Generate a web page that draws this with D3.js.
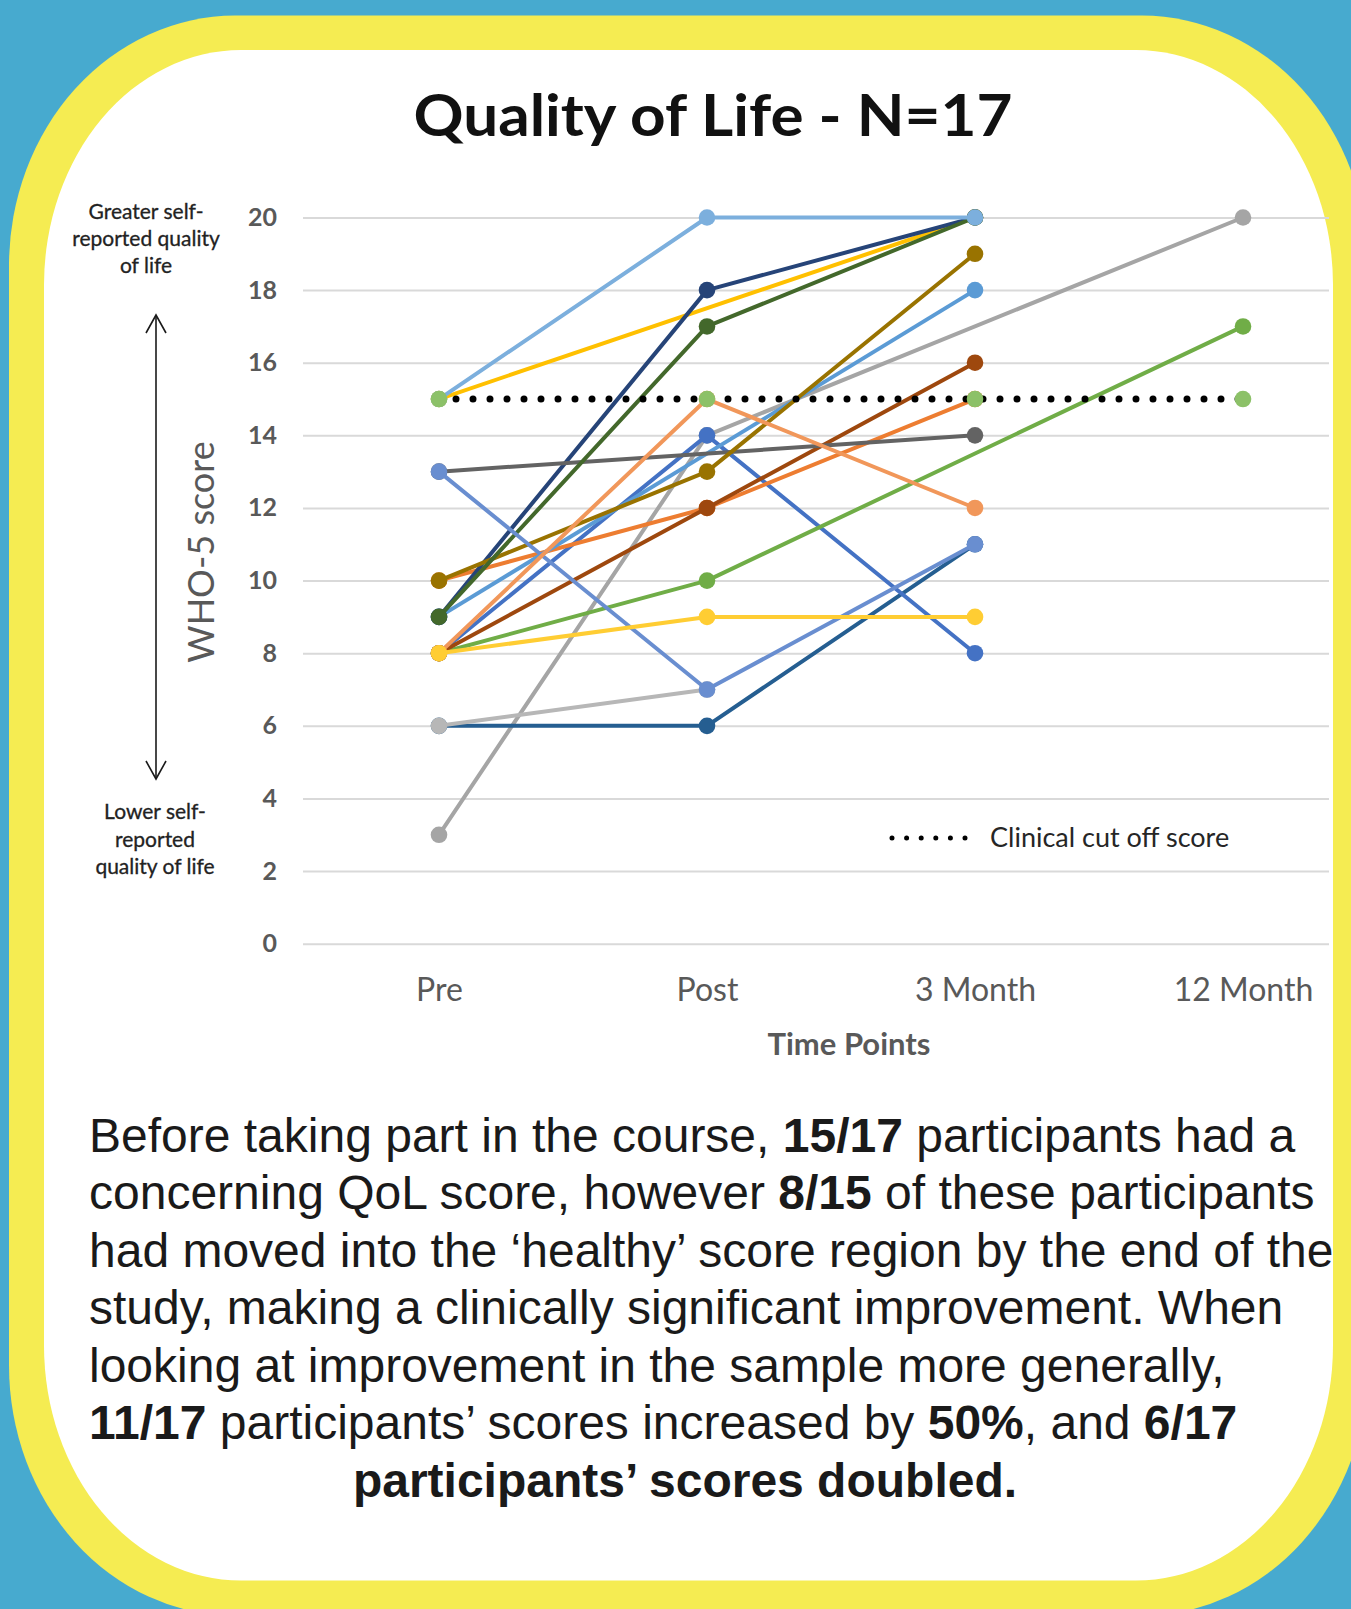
<!DOCTYPE html>
<html>
<head>
<meta charset="utf-8">
<script src="https://cdn.jsdelivr.net/npm/d3@7/dist/d3.min.js"></script>
<style>
  html, body { margin: 0; padding: 0; background: #47aacf; }
  svg { display: block; }
</style>
</head>
<body>
<div id="chart"></div>
<script>
// x categories and y ticks
const timePoints = ["Pre", "Post", "3 Month", "12 Month"];
const yTickValues = [0, 2, 4, 6, 8, 10, 12, 14, 16, 18, 20];

// WHO-5 score of each participant at each time point (null = no score, line spans the gap)
const pGray       = [3, 14, null, 20];
const pDarkBlue   = [6, 6, 11, null];
const pLightGray  = [6, 7, null, null];
const pBlue       = [8, 14, 8, null];
const pOrange     = [10, 12, 15, null];
const pGold       = [15, null, 20, null];
const pSkyBlue    = [9, null, 18, null];
const pGreen      = [8, 10, null, 17];
const pNavy       = [9, 18, 20, null];
const pBrown      = [8, 12, 16, null];
const pDarkGray   = [13, null, 14, null];
const pOlive      = [10, 13, 19, null];
const pDarkGreen  = [9, 17, 20, null];
const pMidBlue    = [13, 7, 11, null];
const pPeach      = [8, 15, 12, null];
const pYellow     = [8, 9, 9, null];
const pLightBlue  = [15, 20, 20, null];

// clinical cut off
const cutoffScores = [15, 15, 15, 15];

// drawing order (later ones sit on top)
const participants = [pGray, pDarkBlue, pLightGray, pBlue, pOrange, pGold, pSkyBlue, pGreen,
    pNavy, pBrown, pDarkGray, pOlive, pDarkGreen, pMidBlue, pPeach, pYellow, pLightBlue];
const seriesColors = ["#a5a5a5", "#255e91", "#b7b7b7", "#4472c4", "#ed7d31", "#ffc000", "#5b9bd5", "#70ad47",
    "#264478", "#9e480e", "#636363", "#997300", "#43682b", "#698ed0", "#f1975a", "#ffcd33", "#7cafdd"];
const cutoffMarkerColor = "#8cc168";

const paragraph = [
    [["Before taking part in the course, ", false], ["15/17", true], [" participants had a", false]],
    [["concerning QoL score, however ", false], ["8/15", true], [" of these participants", false]],
    [["had moved into the \u2018healthy\u2019 score region by the end of the", false]],
    [["study, making a clinically significant improvement. When", false]],
    [["looking at improvement in the sample more generally,", false]],
    [["11/17", true], [" participants\u2019 scores increased by ", false], ["50%", true], [", and ", false], ["6/17", true]],
    [["participants\u2019 scores doubled.", true]]
];

const width = 1351, height = 1609;
const gridLeft = 303, gridRight = 1329;

const svg = d3.select("#chart").append("svg")
    .attr("width", width)
    .attr("height", height);

// poster frame
svg.append("rect").attr("width", width).attr("height", height).attr("fill", "#47aacf");
svg.append("rect")
    .attr("x", 9).attr("y", 15.6).attr("width", 1359).attr("height", 1600)
    .attr("rx", 226).attr("ry", 250)
    .attr("fill", "#f5ec52");
svg.append("rect")
    .attr("x", 44).attr("y", 50).attr("width", 1289).attr("height", 1530.6)
    .attr("rx", 197).attr("ry", 235)
    .attr("fill", "#ffffff");

// title
svg.append("text")
    .attr("x", 713).attr("y", 136)
    .attr("text-anchor", "middle")
    .attr("textLength", 599).attr("lengthAdjust", "spacingAndGlyphs")
    .style("font-family", "'Comic Sans MS', Lato, sans-serif")
    .style("font-weight", "bold")
    .style("font-size", "58px")
    .attr("fill", "#111111")
    .text("Quality of Life - N=17");

const x = d3.scalePoint().domain(timePoints).range([305, 1377]).padding(0.5);
const y = d3.scaleLinear().domain([0, 20]).range([943.7, 217.5]);

// y axis with gridlines
const yAxis = d3.axisLeft(y)
    .tickValues(yTickValues)
    .tickSize(-(gridRight - gridLeft))
    .tickPadding(26);

const yGroup = svg.append("g")
    .attr("transform", "translate(" + gridLeft + ",0)")
    .call(yAxis);
yGroup.select(".domain").remove();
yGroup.selectAll(".tick line").attr("stroke", "#d9d9d9").attr("stroke-width", 2);
yGroup.selectAll(".tick text")
    .style("font-family", "Lato, sans-serif")
    .style("font-weight", "bold")
    .style("font-size", "25px")
    .attr("fill", "#595959");

// x axis labels
const xAxis = d3.axisBottom(x).tickSize(0).tickPadding(35);
const xGroup = svg.append("g")
    .attr("transform", "translate(0," + y(0) + ")")
    .call(xAxis);
xGroup.select(".domain").remove();
xGroup.selectAll(".tick text")
    .style("font-family", "Lato, sans-serif")
    .style("font-size", "32px")
    .attr("fill", "#595959");

svg.append("text")
    .attr("x", 849).attr("y", 1055)
    .attr("text-anchor", "middle")
    .style("font-family", "Lato, sans-serif")
    .style("font-weight", "bold")
    .style("font-size", "31px")
    .attr("fill", "#595959")
    .text("Time Points");

// y axis title and the quality arrow
svg.append("text")
    .attr("transform", "translate(214,552) rotate(-90)")
    .attr("text-anchor", "middle")
    .style("font-family", "Lato, sans-serif")
    .style("font-size", "36px")
    .attr("fill", "#595959")
    .text("WHO-5 score");

const arrow = svg.append("g").attr("stroke", "#1a1a1a").attr("stroke-width", 1.6).attr("fill", "none");
arrow.append("line").attr("x1", 156).attr("x2", 156).attr("y1", 315).attr("y2", 779);
arrow.append("path").attr("d", "M146,333 L156,315 L166,333");
arrow.append("path").attr("d", "M146,761 L156,779 L166,761");

const noteStyle = function (sel) {
    sel.style("font-family", "Lato, sans-serif")
        .style("font-size", "21px")
        .attr("fill", "#222222")
        .attr("stroke", "#222222")
        .attr("stroke-width", 0.3)
        .attr("text-anchor", "middle");
};
const topNote = svg.append("text").call(noteStyle);
["Greater self-", "reported quality", "of life"].forEach(function (t, i) {
    topNote.append("tspan").attr("x", 146).attr("y", 219 + i * 27).text(t);
});
const bottomNote = svg.append("text").call(noteStyle);
["Lower self-", "reported", "quality of life"].forEach(function (t, i) {
    bottomNote.append("tspan").attr("x", 155).attr("y", 819 + i * 27.5).text(t);
});

// participant lines
const line = d3.line()
    .x(function (d) { return x(d.t); })
    .y(function (d) { return y(d.v); });

function toPoints(values) {
    return values.map(function (v, i) { return { t: timePoints[i], v: v }; })
        .filter(function (d) { return d.v !== null; });
}

const plot = svg.append("g");
participants.forEach(function (values, i) {
    const pts = toPoints(values);
    const g = plot.append("g");
    g.append("path")
        .datum(pts)
        .attr("d", line)
        .attr("fill", "none")
        .attr("stroke", seriesColors[i])
        .attr("stroke-width", 4)
        .attr("stroke-linejoin", "round");
    g.selectAll("circle")
        .data(pts)
        .join("circle")
        .attr("cx", function (d) { return x(d.t); })
        .attr("cy", function (d) { return y(d.v); })
        .attr("r", 8.3)
        .attr("fill", seriesColors[i]);
});

// clinical cut off series
const cutPts = toPoints(cutoffScores);
const cutG = plot.append("g");
cutG.append("path")
    .datum(cutPts)
    .attr("d", line)
    .attr("fill", "none")
    .attr("stroke", "#000000")
    .attr("stroke-width", 7)
    .attr("stroke-linecap", "round")
    .attr("stroke-dasharray", "0 17");
cutG.selectAll("circle")
    .data(cutPts)
    .join("circle")
    .attr("cx", function (d) { return x(d.t); })
    .attr("cy", function (d) { return y(d.v); })
    .attr("r", 8.3)
    .attr("fill", cutoffMarkerColor);

// legend
svg.append("line")
    .attr("x1", 892).attr("x2", 966).attr("y1", 838).attr("y2", 838)
    .attr("stroke", "#000000")
    .attr("stroke-width", 5)
    .attr("stroke-linecap", "round")
    .attr("stroke-dasharray", "0 14.6");
svg.append("text")
    .attr("x", 990).attr("y", 847)
    .style("font-family", "Lato, sans-serif")
    .style("font-size", "27px")
    .attr("fill", "#262626")
    .text("Clinical cut off score");

// summary paragraph
const para = svg.append("g")
    .style("font-family", "'Liberation Sans', Arial, sans-serif")
    .style("font-size", "48px")
    .attr("fill", "#1a1a1a");
paragraph.forEach(function (parts, i) {
    const last = i === paragraph.length - 1;
    const t = para.append("text")
        .attr("x", last ? 685 : 89)
        .attr("y", 1151.5 + i * 57.5)
        .attr("text-anchor", last ? "middle" : "start");
    parts.forEach(function (p) {
        t.append("tspan")
            .style("font-weight", p[1] ? "bold" : "normal")
            .text(p[0]);
    });
});
</script>
</body>
</html>
